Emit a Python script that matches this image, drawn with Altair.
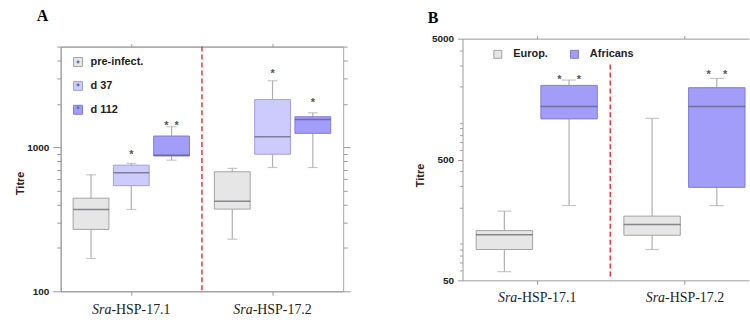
import altair as alt
import pandas as pd

# ---------------- data ----------------
genes = ["Sra-HSP-17.1", "Sra-HSP-17.2"]
gene_italic = ["Sra", "Sra"]
gene_rest = ["-HSP-17.1", "-HSP-17.2"]

A_groups = ["pre-infect.", "d 37", "d 112"]
A_gene = [genes[0]] * 3 + [genes[1]] * 3
A_group = A_groups * 2
A_lo = [169, 370, 814, 230, 724, 724]
A_q1 = [269, 541, 870, 372, 895, 1250]
A_med = [370, 665, 881, 422, 1185, 1560]
A_q3 = [443, 751, 1197, 676, 2143, 1629]
A_hi = [644, 772, 1389, 713, 2897, 1735]
A_star = ["", "*", "*\u00a0\u00a0*", "", "*", "*"]
A_star_y = [None, 920, 1465, None, 3358, 2120]

B_groups = ["Europ.", "Africans"]
B_gene = [genes[0]] * 2 + [genes[1]] * 2
B_group = B_groups * 2
B_lo = [59, 208, 90, 208]
B_q1 = [90, 1084, 118, 294]
B_med = [119, 1370, 145, 1370]
B_q3 = [129, 2052, 170, 1964]
B_hi = [187, 2270, 1097, 2344]
B_star = ["", "*\u00a0\u00a0\u00a0\u00a0\u00a0*", "", "*\u00a0\u00a0\u00a0\u00a0*"]
B_star_y = [None, 2421, None, 2643]

A_ticks = [100, 200, 300, 400, 500, 600, 700, 800, 900, 1000, 2000, 3000, 4000, 5000]
A_major = [100, 1000]
B_ticks = [50, 60, 70, 80, 90, 100, 200, 300, 400, 500, 600, 700, 800, 900,
           1000, 2000, 3000, 4000, 5000]
B_major = [50, 500, 5000]

A_divider = [5000, 100]
B_divider = [3050, 52]

A_fills = ["#e6e6e6", "#cdcbfd", "#a19df8"]
A_strokes = ["#a3a3a3", "#a09ee0", "#7f7bd8"]
B_fills = ["#e6e6e6", "#a19df8"]
B_strokes = ["#a3a3a3", "#7f7bd8"]

FONT = "Liberation Sans"
SERIF = "Liberation Serif"
NB = "\u00a0"
DOT_PATH = "M-0.32,0A0.32,0.32 0 1,0 0.32,0A0.32,0.32 0 1,0 -0.32,0Z"


def tick_size(major, big, small):
    return {"condition": {"test": "indexof(%s, datum.value) >= 0" % major, "value": big},
            "value": small}


def label_expr(major):
    return "indexof(%s, datum.value) >= 0 ? format(datum.value, 'd') : ''" % major


def panel(gene, group, lo, q1, med, q3, hi, star, star_y, groups, fills, strokes,
          ticks, major, ydom, yrange, divider, W, H, xscale, offscale, xband, cap, boxw,
          tmaj, tmin, fill_legend, dot_legend, right_axis, top_offset,
          letter, letter_x, letter_y, label_y, titre_x, titre_y, view_stroke):
    df = pd.DataFrame({"gene": gene, "group": group, "grp": [g + NB for g in group],
                       "lo": lo, "q1": q1, "med": med, "q3": q3, "hi": hi})
    sdf = pd.DataFrame({"gene": gene, "group": group, "star": star, "sy": star_y})
    sdf = sdf[sdf["star"] != ""]
    ldf = pd.DataFrame({"gene": genes, "it": gene_italic, "rest": gene_rest})
    ddf = pd.DataFrame({"gene": [genes[1]], "hi": [divider[0]], "lo": [divider[1]]})
    tdf = pd.DataFrame({"letter": [letter]})

    if yrange is None:
        ys = alt.Scale(type="log", domain=ydom, nice=False)
    else:
        ys = alt.Scale(type="log", domain=ydom, nice=False, range=yrange)
    xo = alt.XOffset("group:N", scale=offscale)

    left_axis = alt.Axis(orient="left", values=ticks, labelExpr=label_expr(major),
                         tickSize=tick_size(major, tmaj, tmin), tickColor="#9a9a9a",
                         domainColor="#9a9a9a", labelFont=FONT, labelFontSize=10,
                         labelFontWeight="bold", labelColor="#222", labelPadding=4,
                         labelFlush=False, labelOverlap=False, grid=False,
                         title="Titre", titleFont=FONT, titleFontSize=11,
                         titleFontWeight="bold", titleColor="#222", titleX=titre_x,
                         titleY=titre_y, titleBaseline="middle", titleAlign="center")
    bottom_axis = alt.Axis(orient="bottom", labels=False, tickSize=4, tickColor="#9a9a9a",
                           domainColor="#9a9a9a", grid=False, title=None,
                           bandPosition=xband)
    top_axis = alt.Axis(orient="top", labels=False, tickSize=3, tickColor="#9a9a9a",
                        domainColor="#9a9a9a", grid=False, title=None,
                        bandPosition=xband, offset=top_offset)

    base = alt.Chart(df)
    whisk = base.mark_rule(color="#b0b0b0", strokeWidth=1.2).encode(
        x=alt.X("gene:N", scale=xscale, axis=bottom_axis),
        xOffset=xo,
        y=alt.Y("lo:Q", scale=ys, axis=left_axis),
        y2="hi:Q",
    )
    if right_axis:
        r_axis = alt.Axis(orient="right", values=ticks, labels=False,
                          tickSize=tick_size(major, 7, 4), tickColor="#9a9a9a",
                          domain=False, grid=False, title=None)
    else:
        r_axis = None
    boxes = base.mark_bar(strokeWidth=1).encode(
        x=alt.X("gene:N", scale=xscale, axis=None),
        xOffset=xo,
        y=alt.Y("q1:Q", scale=ys, axis=r_axis),
        y2="q3:Q",
        fill=alt.Fill("group:N", scale=alt.Scale(domain=groups, range=fills),
                      legend=fill_legend),
        stroke=alt.Stroke("group:N", scale=alt.Scale(domain=groups, range=strokes),
                          legend=None),
    )
    cap_lo = base.mark_tick(size=cap, thickness=1.2, color="#b0b0b0").encode(
        x=alt.X("gene:N", scale=xscale, axis=None), xOffset=xo,
        y=alt.Y("lo:Q", scale=ys, axis=None))
    cap_hi = base.mark_tick(size=cap, thickness=1.2, color="#b0b0b0").encode(
        x=alt.X("gene:N", scale=xscale, axis=top_axis), xOffset=xo,
        y=alt.Y("hi:Q", scale=ys, axis=None))
    median = base.mark_tick(size=boxw, thickness=1.5, color="#5c5c6c").encode(
        x=alt.X("gene:N", scale=xscale, axis=None), xOffset=xo,
        y=alt.Y("med:Q", scale=ys, axis=None))
    stars = alt.Chart(sdf).mark_text(font=FONT, fontSize=11, fontWeight="bold",
                                     color="#555", baseline="middle", dy=3).encode(
        x=alt.X("gene:N", scale=xscale, axis=None), xOffset=xo,
        y=alt.Y("sy:Q", scale=ys, axis=None), text="star:N")
    divider_rule = alt.Chart(ddf).mark_rule(color="#e53a2f", strokeDash=[5, 3],
                                            strokeWidth=1.5).encode(
        x=alt.X("gene:N", scale=xscale, bandPosition=0, axis=None),
        y=alt.Y("hi:Q", scale=ys, axis=None), y2="lo:Q")
    lab_it = alt.Chart(ldf).mark_text(font=SERIF, fontSize=14, fontStyle="italic",
                                      color="#222", align="right", baseline="middle",
                                      dx=-20).encode(
        x=alt.X("gene:N", scale=xscale, axis=None, bandPosition=xband),
        y=alt.value(label_y), text="it:N")
    lab_rest = alt.Chart(ldf).mark_text(font=SERIF, fontSize=14, color="#222",
                                        align="left", baseline="middle", dx=-20).encode(
        x=alt.X("gene:N", scale=xscale, axis=None, bandPosition=xband),
        y=alt.value(label_y), text="rest:N")
    letter_mark = alt.Chart(tdf).mark_text(font=SERIF, fontSize=16, fontWeight="bold",
                                           color="#000", align="left",
                                           baseline="alphabetic").encode(
        x=alt.value(letter_x), y=alt.value(letter_y), text="letter:N")

    layers = [whisk, boxes, cap_lo, cap_hi, median, stars, divider_rule, lab_it,
              lab_rest, letter_mark]
    if dot_legend is not None:
        dots = base.mark_point(size=0, opacity=0, filled=True).encode(
            x=alt.X("gene:N", scale=xscale, axis=None), xOffset=xo,
            y=alt.Y("med:Q", scale=ys, axis=None),
            shape=alt.Shape("grp:N", scale=alt.Scale(domain=[g + NB for g in groups],
                                                     range=[DOT_PATH] * len(groups)),
                            legend=dot_legend))
        layers.append(dots)

    return alt.layer(*layers).resolve_axis(x="independent", y="independent").properties(
        width=W, height=H, view=alt.ViewBackground(stroke=view_stroke))


legA = alt.Legend(orient="none", legendX=12, legendY=10, direction="vertical", title=None,
                  symbolType="square", symbolSize=81, symbolStrokeColor="#999",
                  symbolStrokeWidth=1, labelFont=FONT, labelFontSize=11,
                  labelFontWeight="bold", labelColor="#222", rowPadding=11,
                  labelOffset=7, padding=0)
dotA = alt.Legend(orient="none", legendX=12, legendY=10, direction="vertical", title=None,
                  symbolType=DOT_PATH, symbolSize=81, symbolFillColor="#2b2bff",
                  symbolStrokeColor="transparent", symbolStrokeWidth=1, symbolOpacity=1,
                  labelFont=FONT, labelFontSize=11, labelFontWeight="bold",
                  labelColor="transparent", rowPadding=11, labelOffset=7, padding=0)
legB = alt.Legend(orient="none", legendX=30, legendY=2, direction="horizontal", title=None,
                  symbolType="square", symbolSize=64, symbolStrokeColor="#999",
                  symbolStrokeWidth=1, labelFont=FONT, labelFontSize=11,
                  labelFontWeight="bold", labelColor="#222", columnPadding=20,
                  labelOffset=10, padding=0)

chartA = panel(A_gene, A_group, A_lo, A_q1, A_med, A_q3, A_hi, A_star, A_star_y,
               A_groups, A_fills, A_strokes, A_ticks, A_major, [100, 5000], None,
               A_divider, 284, 246,
               alt.Scale(domain=genes, paddingInner=0, paddingOuter=0),
               alt.Scale(domain=A_groups, paddingInner=0.111, paddingOuter=0.309),
               0.5, 10, 36, 8, 4, legA, dotA, True, 0,
               "A", -24, -26, 265, -40, 137, "#a8a8a8")

chartB = panel(B_gene, B_group, B_lo, B_q1, B_med, B_q3, B_hi, B_star, B_star_y,
               B_groups, B_fills, B_strokes, B_ticks, B_major, [50, 5000], [235, -8],
               B_divider, 288, 235,
               alt.Scale(domain=genes, paddingInner=0.061, paddingOuter=0, align=0),
               alt.Scale(domain=B_groups, paddingInner=0.128, paddingOuter=0.136,
                         align=0.774),
               0.538, 14, 57, 5, 3, legB, None, False, 8,
               "B", -35, -24, 253, -42, 129, "transparent")

chart = alt.concat(chartA, chartB, columns=2, align="none", spacing=63).resolve_scale(
    x="independent", y="independent", xOffset="independent",
    fill="independent", stroke="independent", shape="independent"
).properties(padding={"left": 14, "top": 6, "right": 0, "bottom": 0}, background="white")

chart.save("out.html", embed_options={"renderer": "svg", "actions": False})
